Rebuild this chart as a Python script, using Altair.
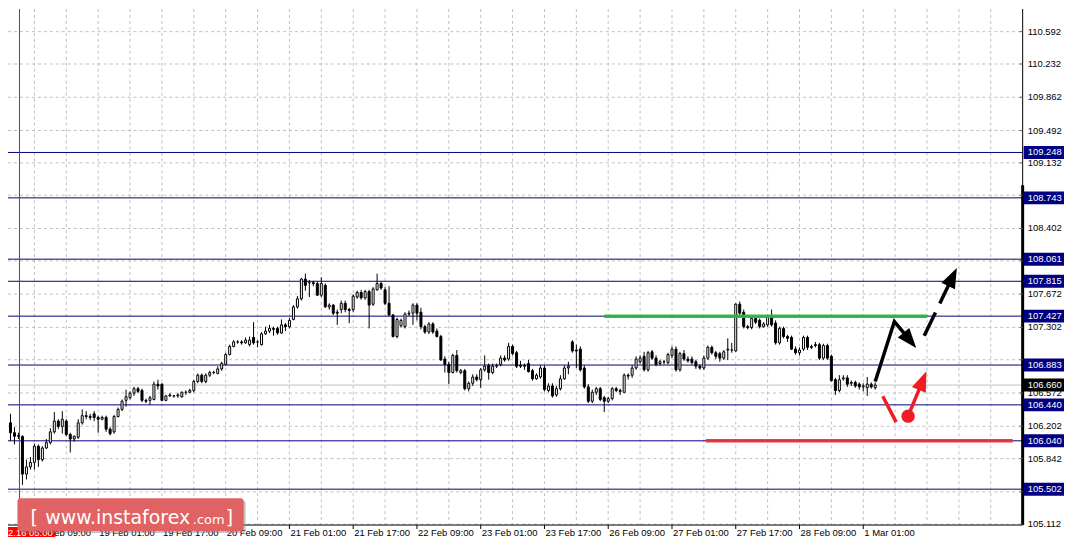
import altair as alt
import pandas as pd

# ---------------- data (H1 candles) ----------------
opens = [
106.09,106.22,106.24,106.13,106.09,106.09,105.67,105.75,105.80,105.98,
105.83,105.96,106.02,106.14,106.26,106.20,106.26,106.11,106.06,106.08,
106.24,106.32,106.31,106.34,106.30,106.28,106.30,106.17,106.14,106.31,
106.39,106.49,106.52,106.57,106.62,106.60,106.49,106.49,106.50,106.67,
106.67,106.49,106.54,106.54,106.54,106.53,106.58,106.58,106.60,106.70,
106.77,106.70,106.77,106.80,106.79,106.84,106.89,107.00,107.09,107.14,
107.14,107.13,107.11,107.19,107.14,107.11,107.23,107.26,107.29,107.29,
107.24,107.33,107.31,107.39,107.53,107.62,107.84,107.80,107.80,107.79,
107.66,107.77,107.53,107.55,107.47,107.50,107.57,107.50,107.50,107.64,
107.69,107.63,107.70,107.56,107.72,107.79,107.72,107.57,107.44,107.20,
107.32,107.31,107.45,107.46,107.55,107.47,107.31,107.25,107.34,107.26,
107.20,106.95,106.89,106.80,106.99,106.80,106.82,106.62,106.68,106.75,
106.72,106.83,106.88,106.80,106.87,106.89,106.96,106.95,107.09,107.02,
106.88,106.88,106.90,106.82,106.73,106.75,106.85,106.60,106.65,106.55,
106.62,106.73,106.85,107.14,107.05,107.06,106.85,106.64,106.48,106.58,
106.62,106.52,106.48,106.51,106.62,106.60,106.58,106.77,106.77,106.85,
106.92,106.98,106.83,107.03,106.96,106.90,106.92,106.91,106.99,107.06,
106.83,107.01,106.95,106.95,106.92,106.87,106.85,106.96,107.08,107.02,
107.01,106.96,107.05,107.05,107.04,107.56,107.47,107.31,107.30,107.40,
107.38,107.31,107.33,107.42,107.35,107.13,107.29,107.20,107.19,107.06,
107.02,107.06,107.19,107.09,107.11,107.11,106.96,107.10,106.98,106.72,
106.60,106.73,106.74,106.68,106.69,106.67,106.64,106.63,106.67,106.63]
closes = [
106.13,106.12,106.13,106.09,106.10,105.67,105.75,105.80,105.98,105.83,
105.96,106.02,106.14,106.26,106.20,106.28,106.11,106.06,106.09,106.24,
106.32,106.31,106.30,106.30,106.28,106.30,106.17,106.12,106.31,106.39,
106.48,106.53,106.57,106.62,106.59,106.49,106.48,106.52,106.67,106.65,
106.49,106.54,106.55,106.54,106.55,106.58,106.58,106.60,106.70,106.77,
106.70,106.77,106.80,106.80,106.84,106.90,107.00,107.09,107.14,107.14,
107.13,107.16,107.16,107.13,107.14,107.23,107.26,107.29,107.28,107.24,
107.33,107.31,107.38,107.53,107.62,107.84,107.77,107.80,107.79,107.66,
107.79,107.53,107.55,107.46,107.46,107.57,107.50,107.49,107.65,107.69,
107.63,107.70,107.55,107.73,107.79,107.74,107.57,107.44,107.20,107.39,
107.38,107.45,107.46,107.55,107.46,107.31,107.25,107.34,107.25,107.20,
106.94,106.89,106.80,106.99,106.82,106.82,106.62,106.68,106.75,106.72,
106.83,106.87,106.80,106.87,106.88,106.96,106.94,107.09,107.01,106.87,
106.87,106.87,106.81,106.73,106.77,106.85,106.61,106.65,106.54,106.62,
106.73,106.85,106.87,107.04,107.04,106.83,106.64,106.48,106.58,106.62,
106.50,106.48,106.51,106.62,106.60,106.59,106.77,106.76,106.85,106.95,
106.96,106.83,107.02,106.96,106.89,106.92,106.92,107.00,107.06,106.83,
107.01,106.95,106.93,106.91,106.87,106.85,106.96,107.08,107.02,106.98,
106.96,107.03,107.06,107.05,107.56,107.46,107.31,107.30,107.40,107.36,
107.31,107.34,107.42,107.33,107.13,107.29,107.20,107.18,107.06,107.02,
107.05,107.19,107.08,107.08,107.10,106.96,107.10,106.96,106.71,106.60,
106.72,106.74,106.67,106.69,106.65,106.64,106.65,106.67,106.64,106.66]
highs = [
106.23,106.30,106.34,106.19,106.13,106.10,105.83,105.86,106.01,106.00,
105.98,106.06,106.18,106.36,106.28,106.37,106.28,106.13,106.10,106.28,
106.39,106.37,106.34,106.37,106.32,106.32,106.32,106.19,106.33,106.41,
106.50,106.61,106.59,106.64,106.64,106.62,106.51,106.54,106.70,106.72,
106.68,106.55,106.57,106.55,106.57,106.59,106.60,106.62,106.72,106.79,
106.79,106.79,106.82,106.82,106.87,106.92,107.02,107.11,107.16,107.16,
107.16,107.19,107.20,107.36,107.16,107.25,107.31,107.33,107.31,107.31,
107.39,107.35,107.41,107.55,107.65,107.85,107.90,107.83,107.82,107.81,
107.86,107.79,107.57,107.56,107.50,107.60,107.60,107.52,107.67,107.71,
107.72,107.72,107.72,107.75,107.90,107.81,107.75,107.76,107.45,107.41,
107.40,107.47,107.49,107.57,107.57,107.52,107.33,107.36,107.36,107.29,
107.22,106.98,106.92,107.01,107.05,106.84,106.84,106.70,106.78,106.78,
106.85,106.99,106.90,106.90,106.90,106.99,106.99,107.13,107.11,107.04,
106.93,106.90,106.94,106.84,106.79,106.88,106.88,106.68,106.68,106.65,
106.77,106.88,106.92,107.16,107.11,107.09,106.88,106.67,106.61,106.64,
106.64,106.54,106.53,106.64,106.64,106.62,106.79,106.79,106.88,106.98,
106.99,107.03,107.04,107.05,106.99,106.94,106.94,107.02,107.09,107.09,
107.03,107.05,106.98,106.98,106.94,106.89,106.99,107.10,107.10,107.04,
107.03,107.05,107.18,107.13,107.57,107.59,107.50,107.33,107.42,107.43,
107.40,107.36,107.44,107.50,107.38,107.31,107.31,107.22,107.21,107.09,
107.08,107.21,107.21,107.11,107.14,107.13,107.12,107.12,107.00,106.74,
106.77,106.77,106.77,106.71,106.71,106.69,106.68,106.75,106.69,106.69]
lows = [
106.02,106.02,106.04,106.00,106.06,105.55,105.61,105.72,105.72,105.75,
105.81,105.95,106.00,106.12,106.17,106.12,106.09,105.91,106.03,106.06,
106.22,106.28,106.27,106.26,106.13,106.27,106.14,106.10,106.12,106.30,
106.37,106.42,106.50,106.54,106.57,106.47,106.46,106.44,106.49,106.61,
106.48,106.48,106.53,106.52,106.52,106.52,106.55,106.57,106.58,106.68,
106.68,106.68,106.75,106.78,106.78,106.82,106.88,106.99,107.08,107.12,
107.11,107.12,107.09,107.11,107.08,107.10,107.22,107.24,107.21,107.22,
107.23,107.26,107.29,107.38,107.51,107.60,107.71,107.64,107.76,107.65,
107.64,107.52,107.50,107.44,107.33,107.46,107.47,107.35,107.47,107.62,
107.61,107.61,107.29,107.54,107.71,107.72,107.55,107.43,107.19,107.18,
107.30,107.29,107.43,107.33,107.38,107.28,107.23,107.23,107.23,107.19,
106.93,106.80,106.67,106.79,106.80,106.78,106.60,106.59,106.65,106.70,
106.63,106.81,106.72,106.78,106.85,106.87,106.92,106.93,106.99,106.85,
106.85,106.83,106.80,106.71,106.72,106.73,106.59,106.58,106.52,106.53,
106.60,106.72,106.78,107.02,106.85,106.81,106.62,106.46,106.46,106.55,
106.48,106.36,106.46,106.49,106.58,106.55,106.57,106.72,106.74,106.83,
106.90,106.81,106.81,106.94,106.87,106.88,106.89,106.89,106.96,106.81,
106.81,106.93,106.91,106.89,106.84,106.83,106.83,106.94,107.00,106.95,
106.92,106.94,106.94,107.02,107.03,107.44,107.29,107.28,107.28,107.34,
107.29,107.30,107.31,107.31,107.11,107.11,107.18,107.14,107.05,107.00,
106.99,107.04,107.05,107.06,107.08,106.94,106.94,106.94,106.70,106.55,
106.58,106.71,106.64,106.65,106.63,106.61,106.59,106.54,106.62,106.61]

grid_values = [110.592, 110.232, 109.862, 109.492, 109.132, 108.772, 108.402, 108.042,
               107.672, 107.302, 106.942, 106.572, 106.202, 105.842, 105.472, 105.112]
# grid values whose labels are visible (the others sit under a level tag)
labelled_grid_values = [110.592, 110.232, 109.862, 109.492, 109.132, 108.402,
                        107.672, 107.302, 106.572, 106.202, 105.842, 105.112]
level_values = [109.248, 108.743, 108.061, 107.815, 107.427, 106.883, 106.440, 106.040, 105.502]
current_price = 106.660
date_labels = ["18 Feb 09:00", "19 Feb 01:00", "19 Feb 17:00", "20 Feb 09:00", "21 Feb 01:00",
               "21 Feb 17:00", "22 Feb 09:00", "23 Feb 01:00", "23 Feb 17:00", "26 Feb 09:00",
               "27 Feb 01:00", "27 Feb 17:00", "28 Feb 09:00", "1 Mar 01:00"]
date_bars = [8, 24, 40, 56, 72, 88, 104, 120, 136, 152, 168, 184, 200, 216]
cursor_label = "18.02.16 05:00"
cursor_bar = 4.25
vgrid_bars = list(range(8, 256, 8))

# annotations (bar index, price)
green_line = {"i": 151, "i2": 232, "p": 107.427}
red_line = {"i": 176.5, "i2": 253.5, "p": 106.040}
black_path_i = [219, 223.8, 226.5]
black_path_p = [106.70, 107.367, 107.224]
dash_path_i = [231.3, 237.6]
dash_path_p = [107.209, 107.789]
red_seg_i = [220.9, 224.25]
red_seg_p = [106.536, 106.248]
red_arrow_i = [227.25, 230.25]
red_arrow_p = [106.314, 106.638]
red_dot = {"i": 227.25, "p": 106.314}
heads_i = [227.7, 238.4, 230.9]
heads_p = [107.158, 107.863, 106.710]
heads_angle = [140.4, 25.7, 22.1]
heads_color = ["black", "black", "#ee1c24"]

# ---------------- layout ----------------
W, H = 1060, 530
X0, X1 = 1.375, (W + 5.5) / 4
Y_TOP, Y_BOT = 110.844, 104.970
FRAME_RIGHT = 256
FRAME_BOTTOM = 105.103
FONT = "Liberation Sans"

xs = alt.Scale(domain=[X0, X1], nice=False, zero=False)
ys = alt.Scale(domain=[Y_BOT, Y_TOP], nice=False, zero=False)


def X(f="i"):
    return alt.X(f"{f}:Q", scale=xs, axis=None)


def Y(f="p"):
    return alt.Y(f"{f}:Q", scale=ys, axis=None)


layers = []

# vertical dashed grid
vg = pd.DataFrame({"i": vgrid_bars, "p": Y_TOP, "p2": FRAME_BOTTOM})
layers.append(alt.Chart(vg).mark_rule(color="#c0c0c0", strokeDash=[3, 3], strokeWidth=1)
              .encode(x=X(), y=Y(), y2=alt.Y2("p2:Q")))
# horizontal dashed grid
hg = pd.DataFrame({"p": grid_values, "i": X0, "i2": FRAME_RIGHT})
layers.append(alt.Chart(hg).mark_rule(color="#c0c0c0", strokeDash=[3, 3], strokeWidth=1)
              .encode(x=X(), x2=alt.X2("i2:Q"), y=Y()))
# current price line
cp = pd.DataFrame({"p": [current_price], "i": X0, "i2": FRAME_RIGHT})
layers.append(alt.Chart(cp).mark_rule(color="#c0c0c0", strokeWidth=1)
              .encode(x=X(), x2=alt.X2("i2:Q"), y=Y()))
# navy levels
lv = pd.DataFrame({"p": level_values, "i": X0, "i2": FRAME_RIGHT})
layers.append(alt.Chart(lv).mark_rule(color="#000080", strokeWidth=1)
              .encode(x=X(), x2=alt.X2("i2:Q"), y=Y()))
# red cursor line
rv = pd.DataFrame({"i": [cursor_bar], "p": Y_TOP, "p2": FRAME_BOTTOM})
layers.append(alt.Chart(rv).mark_rule(color="#ff0000", strokeWidth=1)
              .encode(x=X(), y=Y(), y2=alt.Y2("p2:Q")))

# candles
cd = pd.DataFrame({"i": range(len(opens)), "o": opens, "h": highs, "l": lows, "c": closes})
cd["il"] = cd["i"] - 0.25
cd["ir"] = cd["i"] + 0.25
layers.append(alt.Chart(cd).mark_rule(color="black", strokeWidth=1)
              .encode(x=X(), y=Y("h"), y2=alt.Y2("l:Q")))
layers.append(alt.Chart(cd).mark_rect(stroke="black", strokeWidth=1)
              .encode(x=X("il"), x2=alt.X2("ir:Q"), y=Y("o"), y2=alt.Y2("c:Q"),
                      fill=alt.condition("datum.c >= datum.o", alt.value("white"), alt.value("black"))))

# green & red horizontal annotation lines
gl = pd.DataFrame([green_line])
layers.append(alt.Chart(gl).mark_rule(color="#2fb44a", strokeWidth=3.5, opacity=0.95)
              .encode(x=X(), x2=alt.X2("i2:Q"), y=Y()))
rl = pd.DataFrame([red_line])
layers.append(alt.Chart(rl).mark_rule(color="#e8323a", strokeWidth=3.5, opacity=0.95)
              .encode(x=X(), x2=alt.X2("i2:Q"), y=Y()))

# black solid path
bp = pd.DataFrame({"i": black_path_i, "p": black_path_p, "o": range(len(black_path_i))})
layers.append(alt.Chart(bp).mark_line(color="black", strokeWidth=3.5)
              .encode(x=X(), y=Y(), order="o:Q"))
# black dashed path
dp = pd.DataFrame({"i": dash_path_i, "p": dash_path_p, "o": range(len(dash_path_i))})
layers.append(alt.Chart(dp).mark_line(color="black", strokeWidth=3.5, strokeDash=[26, 10])
              .encode(x=X(), y=Y(), order="o:Q"))
# red segments
rs = pd.DataFrame({"i": red_seg_i + red_arrow_i, "p": red_seg_p + red_arrow_p,
                   "g": ["a", "a", "b", "b"], "o": [0, 1, 0, 1]})
layers.append(alt.Chart(rs).mark_line(color="#ee1c24", strokeWidth=3.5)
              .encode(x=X(), y=Y(), detail="g:N", order="o:Q"))
# arrow heads
hd = pd.DataFrame({"i": heads_i, "p": heads_p, "a": heads_angle, "col": heads_color})
layers.append(alt.Chart(hd).mark_point(shape="M0,-1L0.75,1L-0.75,1Z", filled=True, size=400,
                                        opacity=1, strokeWidth=0)
              .encode(x=X(), y=Y(), angle=alt.Angle("a:Q", scale=None),
                      color=alt.Color("col:N", scale=None)))
# red dot
rd = pd.DataFrame([red_dot])
layers.append(alt.Chart(rd).mark_point(shape="circle", filled=True, size=180, opacity=1,
                                        color="#ee1c24", strokeWidth=0)
              .encode(x=X(), y=Y()))

# frame
fb = pd.DataFrame({"i": [X0], "i2": [FRAME_RIGHT], "p": [FRAME_BOTTOM]})
layers.append(alt.Chart(fb).mark_rule(color="black", strokeWidth=1)
              .encode(x=X(), x2=alt.X2("i2:Q"), y=Y()))
fr = pd.DataFrame({"i": [FRAME_RIGHT], "p": [Y_TOP], "p2": [FRAME_BOTTOM]})
layers.append(alt.Chart(fr).mark_rule(color="black", strokeWidth=1)
              .encode(x=X(), y=Y(), y2=alt.Y2("p2:Q")))
ft = pd.DataFrame({"i": [FRAME_RIGHT], "p": [108.882], "p2": [FRAME_BOTTOM]})
layers.append(alt.Chart(ft).mark_rule(color="black", strokeWidth=3)
              .encode(x=X(), y=Y(), y2=alt.Y2("p2:Q")))

# right axis ticks & labels
rt = pd.DataFrame({"p": grid_values, "i": FRAME_RIGHT - 0.75, "i2": FRAME_RIGHT})
layers.append(alt.Chart(rt).mark_rule(color="#606060", strokeWidth=1)
              .encode(x=X(), x2=alt.X2("i2:Q"), y=Y()))
rl2 = pd.DataFrame({"p": labelled_grid_values,
                    "lab": [f"{v:.3f}" for v in labelled_grid_values], "it": FRAME_RIGHT + 1.25})
layers.append(alt.Chart(rl2).mark_text(align="left", baseline="middle", font=FONT, fontSize=9.5,
                                        color="black")
              .encode(x=X("it"), y=Y(), text="lab:N"))

# level tags
tg = pd.DataFrame({"p": level_values + [current_price],
                   "bg": ["#000080"] * len(level_values) + ["black"]})
tg["lab"] = [f"{v:.3f}" for v in tg["p"]]
tg["p1"] = tg["p"] - 0.072
tg["p2"] = tg["p"] + 0.072
tg["i"] = FRAME_RIGHT + 0.25
tg["i2"] = FRAME_RIGHT + 10.5
tg["it"] = FRAME_RIGHT + 1.25
layers.append(alt.Chart(tg).mark_rect()
              .encode(x=X(), x2=alt.X2("i2:Q"), y=Y("p1"), y2=alt.Y2("p2:Q"),
                      fill=alt.Fill("bg:N", scale=None)))
layers.append(alt.Chart(tg).mark_text(align="left", baseline="middle", font=FONT, fontSize=9.5,
                                       color="white")
              .encode(x=X("it"), y=Y(), text="lab:N"))

# date ticks & labels
dt = pd.DataFrame({"i": date_bars, "lab": date_labels, "p": FRAME_BOTTOM, "p2": 105.059,
                   "pt": 104.981})
layers.append(alt.Chart(dt).mark_rule(color="black", strokeWidth=1)
              .encode(x=X(), y=Y(), y2=alt.Y2("p2:Q")))
layers.append(alt.Chart(dt).mark_text(align="left", baseline="alphabetic", font=FONT, fontSize=9.5,
                                       color="black", dx=1)
              .encode(x=X(), y=Y("pt"), text="lab:N"))
# cursor date box
cb = pd.DataFrame({"i": [X0], "i2": [13.25], "p": [105.081], "p2": [Y_BOT],
                   "it": [12.6], "pt": [104.981], "lab": [cursor_label]})
layers.append(alt.Chart(cb).mark_rect(color="#ff0000")
              .encode(x=X(), x2=alt.X2("i2:Q"), y=Y(), y2=alt.Y2("p2:Q")))
layers.append(alt.Chart(cb).mark_text(align="right", baseline="alphabetic", font=FONT, fontSize=9.5,
                                       color="white")
              .encode(x=X("it"), y=Y("pt"), text="lab:N"))

# watermark
wm = pd.DataFrame({"i": [3.75], "i2": [60.5], "p": [105.402], "p2": [105.037],
                   "is": [4.25], "is2": [61.0], "ps": [105.380], "ps2": [105.015]})
layers.append(alt.Chart(wm).mark_rect(color="#7a7a7a", opacity=0.45, cornerRadius=3)
              .encode(x=X("is"), x2=alt.X2("is2:Q"), y=Y("ps"), y2=alt.Y2("ps2:Q")))
layers.append(alt.Chart(wm).mark_rect(color="#e06262", opacity=1, cornerRadius=3)
              .encode(x=X(), x2=alt.X2("i2:Q"), y=Y(), y2=alt.Y2("p2:Q")))
wt = pd.DataFrame({"i": [7.0, 10.75, 47.75, 56.0],
                   "p": [105.114] * 4,
                   "t": ["[", "www.instaforex", ".com", "]"],
                   "fs": [19, 19, 13, 19]})
layers.append(alt.Chart(wt).mark_text(align="left", baseline="alphabetic", font="DejaVu Sans",
                                       color="white")
              .encode(x=X(), y=Y(), text="t:N", size=alt.Size("fs:Q", scale=None)))

chart = alt.layer(*layers).properties(
    width=W, height=H, padding=0,
    autosize=alt.AutoSizeParams(type="none"),
    background="white",
).configure_view(stroke=None)

chart.save("out.html", embed_options={"renderer": "svg", "actions": False})
